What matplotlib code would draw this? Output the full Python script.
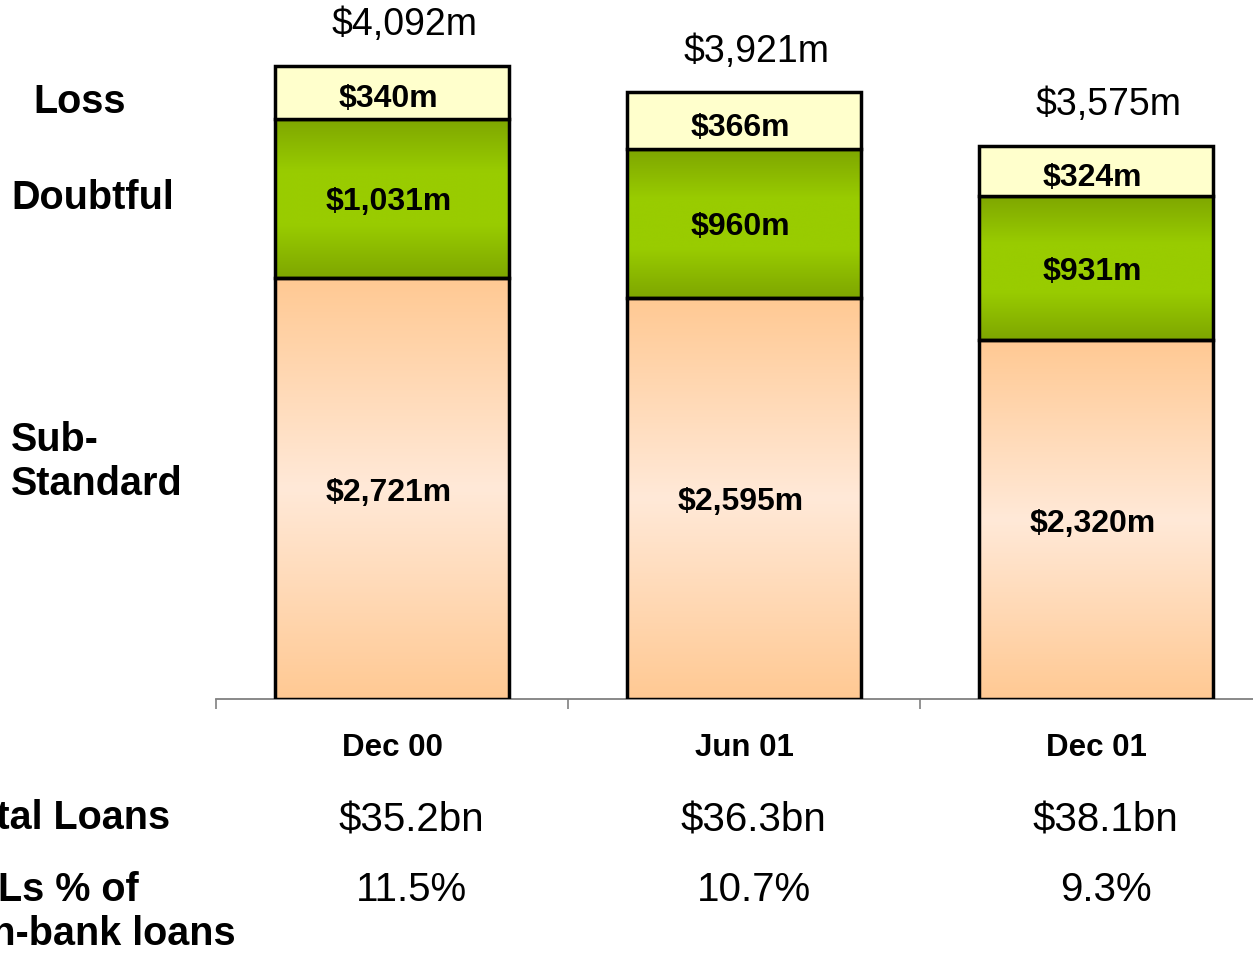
import numpy as np
import matplotlib
matplotlib.use("Agg")
import matplotlib.pyplot as plt
from matplotlib.colors import LinearSegmentedColormap
from matplotlib.transforms import blended_transform_factory

plt.rcParams["font.family"] = ["Liberation Sans", "DejaVu Sans"]

periods = ["Dec 00", "Jun 01", "Dec 01"]
sub_standard = [2721, 2595, 2320]
doubtful = [1031, 960, 931]
loss = [340, 366, 324]
totals = ["$4,092m", "$3,921m", "$3,575m"]
total_loans = ["$35.2bn", "$36.3bn", "$38.1bn"]
npl_pct = ["11.5%", "10.7%", "9.3%"]

W, H = 1253, 954
fig = plt.figure(figsize=(W / 100, H / 100), dpi=100)
# axis line sits at pixel row 700; x range runs a little past the right edge
ax = fig.add_axes([216 / W, 1 - 700 / H, 1056 / W, 700 / H])

x = np.arange(len(periods))
bw = 0.665
row_dx = [0.055, 0.027, 0.027]  # small text nudges seen in the slide

# vertical gradients: darker at top/bottom, lighter in the middle
CM_SUB = LinearSegmentedColormap.from_list("sub", ["#FFC993", "#FFE9D8", "#FFC993"])
CM_DBT = LinearSegmentedColormap.from_list("dbt", ["#7EA600", "#99CC00", "#99CC00", "#7EA600"])
grad = np.linspace(0, 1, 256).reshape(-1, 1)


def gradient_bars(bottom, vals, cmap):
    bars = ax.bar(x, vals, bw, bottom=bottom, facecolor="none",
                  edgecolor="black", linewidth=2.5, zorder=3)
    for p in bars:
        x0, y0 = p.get_x(), p.get_y()
        im = ax.imshow(grad, cmap=cmap, aspect="auto", zorder=2,
                       extent=(x0, x0 + p.get_width(), y0, y0 + p.get_height()),
                       interpolation="bicubic")
        im.set_clip_path(p)
    return bars


bottoms2 = np.array(sub_standard)
bottoms3 = bottoms2 + np.array(doubtful)
gradient_bars(0, sub_standard, CM_SUB)
gradient_bars(bottoms2, doubtful, CM_DBT)
ax.bar(x, loss, bw, bottom=bottoms3, color="#FFFFCC",
       edgecolor="black", linewidth=2.5, zorder=3)
ax.set_xlim(-0.5, 2.5)
ax.set_ylim(0, 700 / 0.1547)

lab = dict(ha="center", va="center", fontsize=23, fontweight="bold", zorder=5)
for i in range(len(periods)):
    ax.text(x[i] - 0.01, sub_standard[i] / 2 - 20, f"${sub_standard[i]:,}m", **lab)
    ax.text(x[i] - 0.01, bottoms2[i] + doubtful[i] / 2 - 20, f"${doubtful[i]:,}m", **lab)
    ax.text(x[i] - 0.01, bottoms3[i] + loss[i] / 2 - 38, f"${loss[i]:,}m", **lab)
    top = bottoms3[i] + loss[i]
    ax.annotate(totals[i], (x[i], top), xytext=(9, 30), textcoords="offset points",
                ha="center", va="center", fontsize=27)

# axes cosmetics
for s in ("top", "right", "left"):
    ax.spines[s].set_visible(False)
ax.spines["bottom"].set_color("#808080")
ax.spines["bottom"].set_linewidth(1.3)
ax.set_yticks([])
ax.set_xticks([-0.5, 0.5, 1.5, 2.5])
ax.set_xticklabels([])
ax.tick_params(axis="x", length=7, color="#808080", width=1.2)

tr = blended_transform_factory(ax.transData, ax.transAxes)
for i in range(len(periods)):
    ax.text(x[i], (700 - 748) / 700, periods[i], transform=tr, ha="center",
            va="center", fontsize=22.5, fontweight="bold")
    ax.text(x[i] + row_dx[i], (700 - 820) / 700, total_loans[i], transform=tr,
            ha="center", va="center", fontsize=29)
    ax.text(x[i] + row_dx[i], (700 - 890) / 700, npl_pct[i], transform=tr,
            ha="center", va="center", fontsize=29)

# row / series labels on the left
side = dict(fontsize=28.5, fontweight="bold", va="center", ha="left")
fig.text(33 / W, 1 - 102 / H, "Loss", **side)
fig.text(11 / W, 1 - 198 / H, "Doubtful", **side)
fig.text(11 / W, 1 - 462 / H, "Sub-\nStandard", linespacing=1.2, **side)
fig.text(-49 / W, 1 - 818 / H, "Total Loans", **side)
fig.text(-57 / W, 1 - 912 / H, "NPLs % of\nnon-bank loans", linespacing=1.2, **side)

fig.savefig("out.png", dpi=100)
